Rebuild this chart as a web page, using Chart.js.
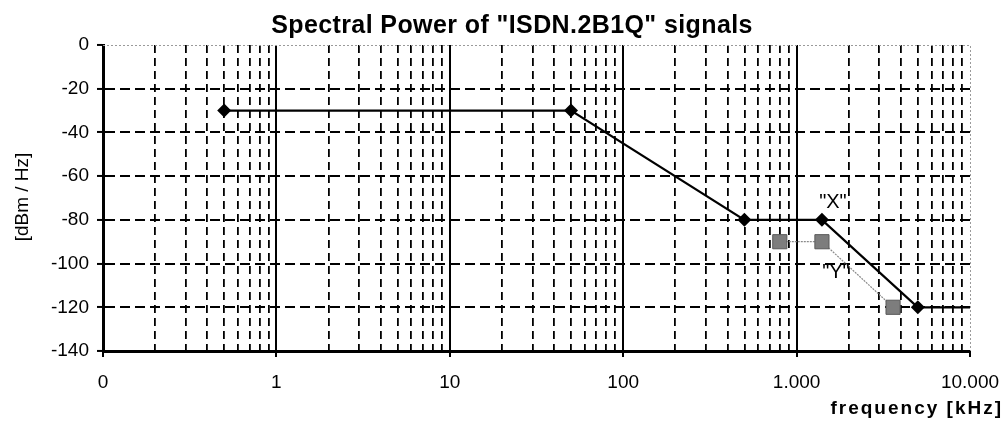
<!DOCTYPE html>
<html>
<head>
<meta charset="utf-8">
<script src="https://cdn.jsdelivr.net/npm/chart.js@4/dist/chart.umd.min.js"></script>
<style>
    html, body { margin: 0; padding: 0; background: #fff; }
    #wrap { width: 1008px; height: 423px; }
</style>
</head>
<body>
<div id="wrap"><canvas id="spectrumChart"></canvas></div>
<script>
// X series (black diamonds)
const xFreq = [0.5, 50, 500, 1400, 5000, 10000];
const xPower = [-30, -30, -80, -80, -120, -120];
const xMarkers = [true, true, true, true, true, false];

// Y series (grey squares)
const yFreq = [800, 1400, 3600];
const yPower = [-90, -90, -120];

const decadeTicks = [0.1, 1, 10, 100, 1000, 10000];
const decadeLabels = ['0', '1', '10', '100', '1.000', '10.000'];
const yTicks = [0, -20, -40, -60, -80, -100, -120, -140];

// all 1..9 multiples per decade for the grid
const gridTicks = [];
decadeTicks.slice(0, -1).forEach(d => {
    for (let m = 1; m < 10; m++) gridTicks.push(+(d * m).toPrecision(3));
});
gridTicks.push(10000);

const isDecade = v => decadeTicks.some(d => Math.abs(d - v) / d < 1e-6);

const textPlugin = {
    id: 'texts',
    beforeDatasetsDraw(chart) {
        const { ctx, chartArea } = chart;
        ctx.save();
        ctx.strokeStyle = '#9a9a9a';
        ctx.lineWidth = 1;
        ctx.setLineDash([2, 2]);
        ctx.beginPath();
        ctx.moveTo(chartArea.left, chartArea.top + 0.5);
        ctx.lineTo(chartArea.right + 0.5, chartArea.top + 0.5);
        ctx.lineTo(chartArea.right + 0.5, chartArea.bottom);
        ctx.stroke();
        ctx.restore();
    },
    afterDraw(chart) {
        const { ctx } = chart;
        const xs = chart.scales.x;
        const ys = chart.scales.y;
        ctx.save();
        ctx.fillStyle = '#000';

        ctx.font = 'bold 25px "Liberation Sans", Arial, sans-serif';
        ctx.textAlign = 'center';
        ctx.textBaseline = 'alphabetic';
        ctx.letterSpacing = '0.4px';
        ctx.fillText('Spectral Power of "ISDN.2B1Q" signals', 512, 33);

        ctx.font = 'bold 19px "Liberation Sans", Arial, sans-serif';
        ctx.textAlign = 'right';
        ctx.textBaseline = 'middle';
        ctx.letterSpacing = '2px';
        ctx.fillText('frequency [kHz]', 1003, 409);
        ctx.letterSpacing = '0px';

        ctx.save();
        ctx.translate(23, 197);
        ctx.rotate(-Math.PI / 2);
        ctx.textAlign = 'center';
        ctx.font = '19px "Liberation Sans", Arial, sans-serif';
        ctx.fillText('[dBm / Hz]', 0, 0);
        ctx.restore();

        ctx.font = '20px "Liberation Sans", Arial, sans-serif';
        ctx.textAlign = 'center';
        ctx.fillText('"X"', xs.getPixelForValue(1400) + 11, ys.getPixelForValue(-72));
        ctx.fillText('"Y"', xs.getPixelForValue(1400) + 14, ys.getPixelForValue(-104));
        ctx.restore();
    }
};

const ctxSpectrum = document.getElementById('spectrumChart').getContext('2d');
new Chart(ctxSpectrum, {
    type: 'scatter',
    data: {
        datasets: [{
            label: 'X',
            data: xFreq.map((f, i) => ({ x: f, y: xPower[i] })),
            showLine: true,
            borderColor: '#000',
            borderWidth: 2.2,
            backgroundColor: '#000',
            pointStyle: 'rectRot',
            pointRadius: xMarkers.map(m => m ? 7 : 0),
            pointBorderWidth: 0
        }, {
            label: 'Y',
            data: yFreq.map((f, i) => ({ x: f, y: yPower[i] })),
            showLine: true,
            borderColor: '#8a8a8a',
            borderWidth: 1.2,
            borderDash: [2, 1],
            backgroundColor: '#7d7d7d',
            pointBorderColor: '#5a5a5a',
            pointBorderWidth: 1,
            pointStyle: 'rect',
            pointRadius: 10
        }]
    },
    options: {
        responsive: true,
        maintainAspectRatio: false,
        animation: false,
        layout: {
            padding: { left: 0, top: 45, right: 38, bottom: 0 }
        },
        scales: {
            x: {
                type: 'logarithmic',
                min: 0.1,
                max: 10000,
                afterBuildTicks: (scale) => {
                    scale.ticks = gridTicks.map(v => ({ value: v, major: isDecade(v) }));
                },
                afterFit: (scale) => {
                    scale.height = 72;
                    scale.paddingLeft = 0;
                    scale.paddingRight = 0;
                },
                ticks: {
                    autoSkip: false,
                    maxRotation: 0,
                    minRotation: 0,
                    padding: 14,
                    color: '#000',
                    font: { size: 19, family: '"Liberation Sans", Arial, sans-serif' },
                    callback: (value) => {
                        const idx = decadeTicks.findIndex(d => Math.abs(d - value) / d < 1e-6);
                        return idx >= 0 ? decadeLabels[idx] : '';
                    }
                },
                grid: {
                    color: (c) => {
                        const v = c.tick ? c.tick.value : 0;
                        if (v === 0.1 || v === 10000) return 'rgba(0,0,0,0)';
                        return '#000';
                    },
                    lineWidth: (c) => (c.tick && isDecade(c.tick.value)) ? 2 : 1.8,
                    tickColor: (c) => (c.tick && isDecade(c.tick.value)) ? '#000' : 'rgba(0,0,0,0)',
                    tickLength: 6,
                    tickWidth: 2
                },
                border: {
                    color: '#000',
                    width: 3,
                    dash: (c) => (c.tick && !isDecade(c.tick.value)) ? [8, 5] : []
                }
            },
            y: {
                min: -140,
                max: 0,
                afterBuildTicks: (scale) => {
                    scale.ticks = yTicks.map(v => ({ value: v }));
                },
                afterFit: (scale) => { scale.width = 103; },
                ticks: {
                    padding: 8,
                    color: '#000',
                    font: { size: 19, family: '"Liberation Sans", Arial, sans-serif' },
                    callback: (value) => String(value)
                },
                grid: {
                    color: (c) => {
                        const v = c.tick ? c.tick.value : 0;
                        if (v === 0 || v === -140) return 'rgba(0,0,0,0)';
                        return '#000';
                    },
                    lineWidth: 1.9,
                    tickColor: '#000',
                    tickLength: 6,
                    tickWidth: 2
                },
                border: {
                    color: '#000',
                    width: 3,
                    dash: [10, 5]
                }
            }
        },
        plugins: {
            legend: { display: false },
            tooltip: { enabled: false }
        }
    },
    plugins: [textPlugin]
});
</script>
</body>
</html>
